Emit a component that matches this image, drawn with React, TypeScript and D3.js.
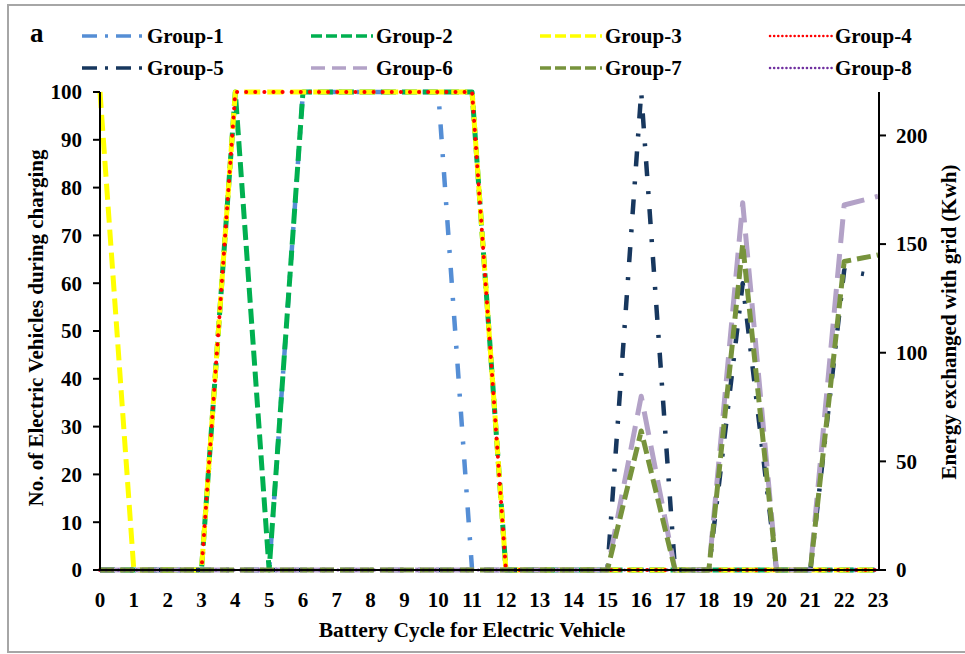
import React from "react";
import * as d3 from "d3";

const cycles = [0,1,2,3,4,5,6,7,8,9,10,11,12,13,14,15,16,17,18,19,20,21,22,23];
const group1 = [0,0,0,0,0,0,100,100,100,100,100,0,0,0,0,0,0,0,0,0,0,0,0,0];
const group2 = [0,0,0,0,100,0,100,100,100,100,100,100,0,0,0,0,0,0,0,0,0,0,0,0];
const group3 = [100,0,0,0,100,100,100,100,100,100,100,100,0,0,0,0,0,0,0,0,0,0,0,0];
const group4 = [0,0,0,0,100,100,100,100,100,100,100,100,0,0,0,0,0,0,0,0,0,0,0,0];
const group5 = [0,0,0,0,0,0,0,0,0,0,0,0,0,0,0,0,220,0,0,132,0,0,138,135];
const group6 = [0,0,0,0,0,0,0,0,0,0,0,0,0,0,0,0,80,0,0,169,0,0,168,172];
const group7 = [0,0,0,0,0,0,0,0,0,0,0,0,0,0,0,0,64,0,0,150,0,0,142,145];
const group8 = [0,0,0,0,0,0,0,0,0,0,0,0,0,0,0,0,0,0,0,0,0,0,0,0];

const seriesNames = ["Group-1","Group-2","Group-3","Group-4","Group-5","Group-6","Group-7","Group-8"];
const leftTicks = [0,10,20,30,40,50,60,70,80,90,100];
const rightTicks = [0,50,100,150,200];

type Style = { color: string; width: number; dash: string; cap: string; legDash: string; legWidth: number; legCap: string; axis: "L" | "R" };
const styles: Style[] = [
  { color: "#558ED5", width: 4.5, dash: "15,15,3,15", cap: "butt", legDash: "15,8,3,8", legWidth: 3.5, legCap: "butt", axis: "L" },
  { color: "#00B050", width: 5, dash: "15,6", cap: "butt", legDash: "11,4", legWidth: 3.5, legCap: "butt", axis: "L" },
  { color: "#FFFF00", width: 5, dash: "16,7", cap: "butt", legDash: "11,4", legWidth: 3.5, legCap: "butt", axis: "L" },
  { color: "#FF0000", width: 4, dash: "0.1,9", cap: "round", legDash: "0.1,4", legWidth: 2.5, legCap: "round", axis: "L" },
  { color: "#17375E", width: 4.5, dash: "15,15,3,15", cap: "butt", legDash: "15,8,3,8", legWidth: 3.5, legCap: "butt", axis: "R" },
  { color: "#B3A2C7", width: 5, dash: "24,11", cap: "butt", legDash: "14,7", legWidth: 3.5, legCap: "butt", axis: "R" },
  { color: "#77933C", width: 5, dash: "14,6", cap: "butt", legDash: "11,4", legWidth: 3.5, legCap: "butt", axis: "R" },
  { color: "#7030A0", width: 3, dash: "0.1,6", cap: "round", legDash: "0.1,4", legWidth: 2.5, legCap: "round", axis: "R" },
];
const seriesData = [group1, group2, group3, group4, group5, group6, group7, group8];

const FONT = "'Liberation Serif', 'Times New Roman', serif";

export default function App() {
  const W = 965, H = 654;
  const x = d3.scaleLinear().domain([0, 23]).range([100, 878]);
  const yL = d3.scaleLinear().domain([0, 100]).range([570, 92]);
  const yR = d3.scaleLinear().domain([0, 220]).range([570, 92]);

  const legendCols = [82, 311, 540, 770];
  const legendRows = [36, 68];

  return (
    <svg width={W} height={H} style={{ position: "absolute", left: 0, top: 0, background: "#fff" }}
      fontFamily={FONT} fontWeight="bold">
      <rect x={0} y={0} width={W} height={H} fill="#fff" />
      <rect x={8} y={5} width={970} height={647} fill="none" stroke="#A6A6A6" strokeWidth={2} />

      {/* panel label */}
      <text x={30} y={42} fontSize={27} fill="#000">a</text>

      {/* legend */}
      {seriesNames.map((name, i) => {
        const col = i % 4, row = Math.floor(i / 4);
        const sx = legendCols[col], sy = legendRows[row];
        const st = styles[i];
        return (
          <g key={name}>
            <line x1={sx} x2={sx + 62} y1={sy} y2={sy} stroke={st.color} strokeWidth={st.legWidth}
              strokeDasharray={st.legDash} strokeLinecap={st.legCap as any} />
            <text x={sx + 65} y={sy + 7} fontSize={21} fill="#000">{name}</text>
          </g>
        );
      })}

      {/* series */}
      {seriesData.map((vals, i) => {
        const st = styles[i];
        const ys = st.axis === "L" ? yL : yR;
        const line = d3.line<number>().x((_, j) => x(cycles[j])).y((v) => ys(v));
        return (
          <path key={i} d={line(vals) || ""} fill="none" stroke={st.color} strokeWidth={st.width}
            strokeDasharray={st.dash} strokeLinecap={st.cap as any} strokeLinejoin="round" />
        );
      })}

      {/* left axis */}
      <line x1={100} x2={100} y1={92} y2={570} stroke="#000" strokeWidth={2} />
      {leftTicks.map((t) => (
        <g key={"l" + t}>
          <line x1={93} x2={100} y1={yL(t)} y2={yL(t)} stroke="#000" strokeWidth={2} />
          <text x={82} y={yL(t)} dy="0.35em" textAnchor="end" fontSize={21} fill="#000">{t}</text>
        </g>
      ))}

      {/* right axis */}
      <line x1={879} x2={879} y1={92} y2={570} stroke="#000" strokeWidth={2} />
      {rightTicks.map((t) => (
        <g key={"r" + t}>
          <line x1={879} x2={886} y1={yR(t)} y2={yR(t)} stroke="#000" strokeWidth={2} />
          <text x={896} y={yR(t)} dy="0.35em" textAnchor="start" fontSize={21} fill="#000">{t}</text>
        </g>
      ))}

      {/* x axis */}
      <line x1={93} x2={886} y1={570} y2={570} stroke="#000" strokeWidth={2} />
      {cycles.map((c) => (
        <text key={"x" + c} x={x(c)} y={607} textAnchor="middle" fontSize={21} fill="#000">{c}</text>
      ))}

      {/* axis titles */}
      <text x={472} y={637} textAnchor="middle" fontSize={21.5} fill="#000">Battery Cycle for Electric Vehicle</text>
      <text transform="translate(43,328) rotate(-90)" textAnchor="middle" fontSize={21} fill="#000">No. of Electric Vehicles during charging</text>
      <text transform="translate(956,322) rotate(-90)" textAnchor="middle" fontSize={21} fill="#000">Energy exchanged with grid (Kwh)</text>
    </svg>
  );
}
